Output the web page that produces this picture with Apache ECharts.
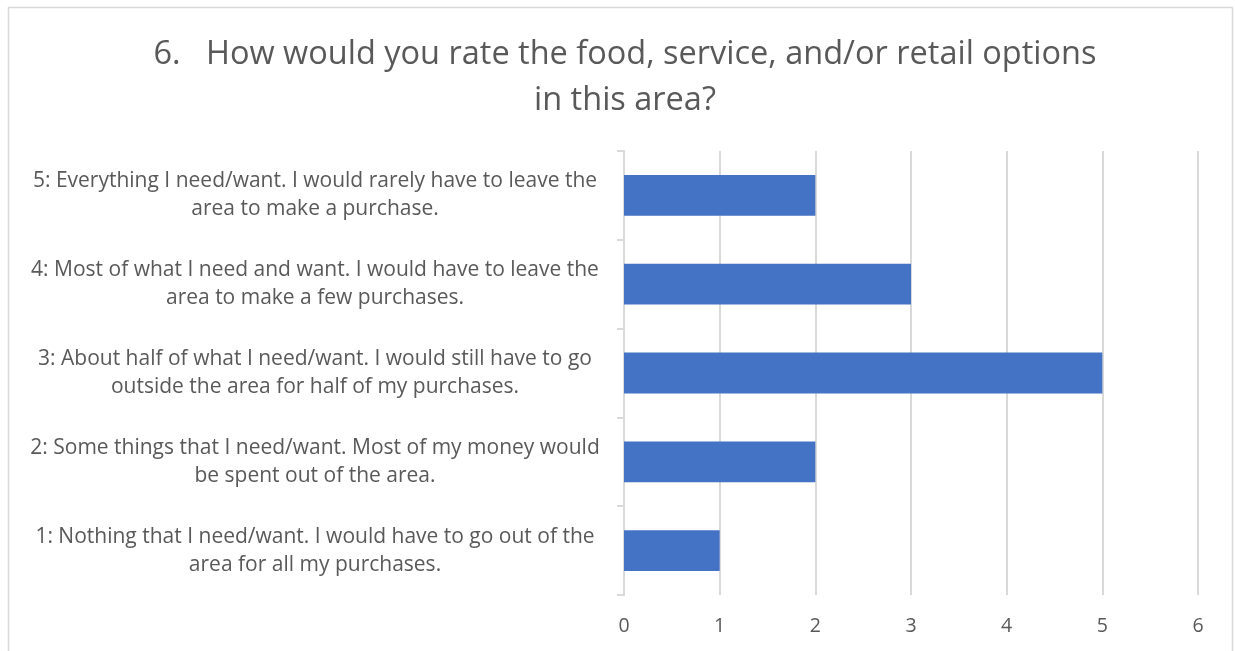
<!DOCTYPE html>
<html>
<head>
<meta charset="utf-8">
<script src="https://cdn.jsdelivr.net/npm/echarts@6/dist/echarts.min.js"></script>
<style>
html,body{margin:0;padding:0;background:#fff;}
#c{width:1235px;height:651px;}
</style>
</head>
<body>
<div id="c"></div>
<script>
const titleText = "6.   How would you rate the food, service, and/or retail options\nin this area?";
const categories = [
  "1: Nothing that I need/want. I would have to go out of the\narea for all my purchases.",
  "2: Some things that I need/want. Most of my money would\nbe spent out of the area.",
  "3: About half of what I need/want. I would still have to go\noutside the area for half of my purchases.",
  "4: Most of what I need and want. I would have to leave the\narea to make a few purchases.",
  "5: Everything I need/want. I would rarely have to leave the\narea to make a purchase."
];
const values = [1, 2, 5, 3, 2];
const xTicks = [0, 1, 2, 3, 4, 5, 6];

const chart = echarts.init(document.getElementById('c'), null, {renderer: 'canvas'});
const FONT = 'Open Sans';
chart.setOption({
  backgroundColor: '#fff',
  animation: false,
  graphic: [{
    type: 'rect',
    shape: {x: 8.5, y: 7.5, width: 1224, height: 700},
    style: {fill: 'none', stroke: '#d9d9d9', lineWidth: 1.5},
    silent: true, z: -10
  }],
  title: {
    text: titleText,
    left: 620,
    top: 27,
    textAlign: 'center',
    textStyle: {
      fontFamily: FONT, fontSize: 32.5, fontWeight: 'normal', color: '#595959', lineHeight: 46
    }
  },
  grid: {left: 624, right: 37, top: 151, bottom: 56, containLabel: false},
  xAxis: {
    type: 'value',
    min: xTicks[0],
    max: xTicks[xTicks.length - 1],
    interval: 1,
    axisLine: {show: false},
    axisTick: {show: false},
    splitLine: {show: true, lineStyle: {color: '#d9d9d9', width: 2}},
    axisLabel: {
      margin: 21,
      fontFamily: FONT, fontSize: 19.5, color: '#595959',
      formatter: v => String(v)
    }
  },
  yAxis: {
    type: 'category',
    data: categories,
    axisLine: {show: true, lineStyle: {color: '#d9d9d9', width: 2}},
    axisTick: {show: true, length: 7, lineStyle: {color: '#d9d9d9', width: 2}},
    splitLine: {show: false},
    axisLabel: {
      margin: 309,
      align: 'center',
      fontFamily: FONT, fontSize: 21, color: '#595959', lineHeight: 28
    }
  },
  series: [{
    type: 'bar',
    data: values,
    barCategoryGap: '54%',
    itemStyle: {color: '#4472C4'}
  }]
});
</script>
</body>
</html>
